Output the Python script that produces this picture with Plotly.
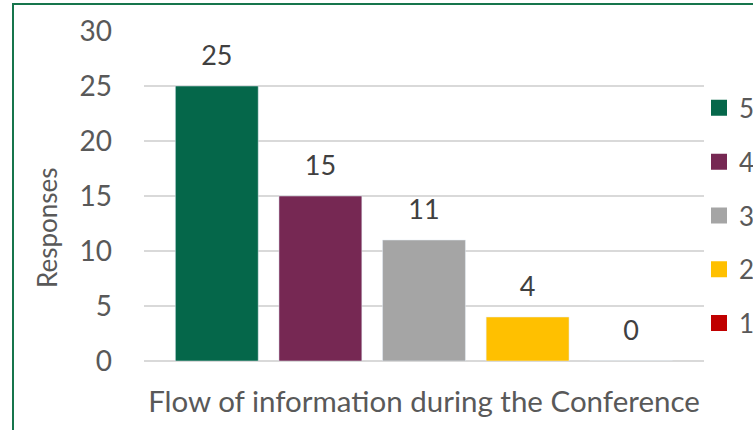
import plotly.graph_objects as go

categories = ["Flow of information during the Conference"]
series_names = ["5", "4", "3", "2", "1"]
series_values = [25, 15, 11, 4, 0]
series_colors = ["#05674A", "#762853", "#A5A5A5", "#FFC000", "#C00000"]
y_ticks = [0, 5, 10, 15, 20, 25, 30]
y_title = "Responses"

FONT = "Lato"
TXT = "#595959"

fig = go.Figure()

for name, val, col in zip(series_names, series_values, series_colors):
    fig.add_trace(go.Bar(
        x=categories, y=[val], name=name, marker_color=col,
        showlegend=False, hoverinfo="skip", offsetgroup=name,
    ))

for name, val, col in zip(series_names, series_values, series_colors):
    fig.add_trace(go.Scatter(
        x=categories, y=[val], mode="markers+text", text=[str(val)],
        textposition="top center", offsetgroup=name,
        textfont=dict(family=FONT, size=27, color="#404040"),
        marker=dict(size=22, opacity=0), showlegend=False, hoverinfo="skip",
        cliponaxis=False,
    ))

# legend entries (on a hidden axis pair so they do not affect grouping)
for name, col in zip(series_names, series_colors):
    fig.add_trace(go.Scatter(
        x=[None], y=[None], mode="markers", name=name,
        marker=dict(symbol="square", size=16, color=col),
        xaxis="x2", yaxis="y2", legendgroup=name,
    ))

fig.update_layout(
    width=753, height=430,
    margin=dict(l=144, r=49, t=31, b=69, autoexpand=False),
    paper_bgcolor="white", plot_bgcolor="white",
    barmode="group", bargap=0.075, bargroupgap=0.2,
    scattermode="group", scattergap=0.075,
    font=dict(family=FONT, color=TXT),
    xaxis=dict(showgrid=False, showline=False, ticks="", automargin=False,
               tickfont=dict(size=29.5, color=TXT), ticklabelstandoff=20),
    yaxis=dict(range=[0, 30], tickvals=y_ticks, showgrid=True, automargin=False,
               gridcolor="#D9D9D9", gridwidth=1.5, zeroline=True,
               zerolinecolor="#D9D9D9", zerolinewidth=1.5,
               tickfont=dict(size=28, color=TXT), ticks="", ticklabelstandoff=31),
    xaxis2=dict(visible=False, overlaying="x"),
    yaxis2=dict(visible=False, overlaying="y"),
    legend=dict(x=(699 - 144) / 560, y=0.838, xanchor="left", yanchor="top",
                font=dict(size=26, color=TXT), tracegroupgap=17,
                bgcolor="rgba(0,0,0,0)"),
    annotations=[dict(text=y_title, xref="paper", yref="paper",
                      x=(47 - 144) / 560, y=(361 - 228) / 330,
                      xanchor="center", yanchor="middle", textangle=-90,
                      showarrow=False, font=dict(size=26, color=TXT))],
    shapes=[dict(type="rect", xref="paper", yref="paper",
                 x0=(13 - 144) / 560, x1=2, y0=-1, y1=(361 - 4) / 330,
                 line=dict(color="#17754C", width=2), layer="below")],
)

fig.write_html("out.html", config={"displayModeBar": False},
               post_script="document.body.style.margin='0';")
